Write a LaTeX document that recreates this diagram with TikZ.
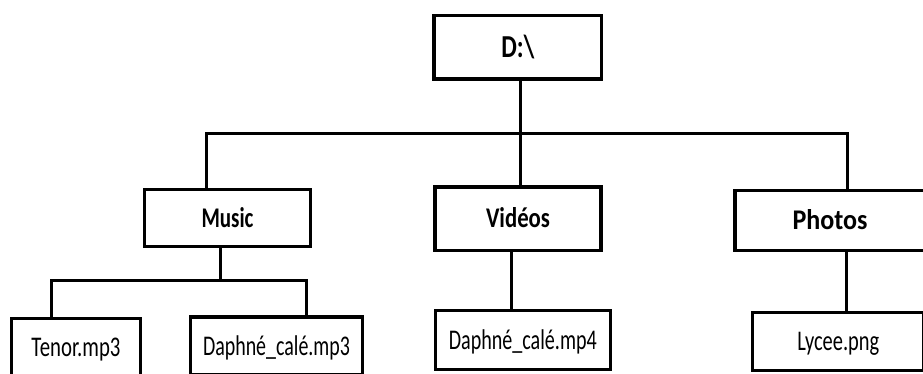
\documentclass[tikz,border=0pt]{standalone}
\usepackage{graphicx}
\usepackage{fontspec}
\setmainfont{Carlito}
\newcommand\boxtext[3]{\resizebox{#1}{\height}{\fontsize{#2}{#2}\selectfont #3}}
\tikzset{
  dirbox/.style={draw=black, line width=3.2pt, fill=white, rectangle, inner sep=0pt, align=center},
  link/.style={draw=black, line width=3pt, line join=miter}
}
\begin{document}
\begin{tikzpicture}[x=1pt,y=-1pt]
\useasboundingbox (0,0) rectangle (923,374);
\clip (0,0) rectangle (923,374);
\fill[white] (0,0) rectangle (923,374);
% boxes
\node[dirbox, minimum width=167.7pt, minimum height=63.3pt, text height=20.6pt, text depth=0pt] (d) at (517.9,47.3) {\boxtext{33pt}{32pt}{\bfseries D:\textbackslash}};
\node[dirbox, minimum width=165.6pt, minimum height=57.5pt, text height=18.4pt, text depth=0pt] (music) at (227.5,218) {\boxtext{52pt}{28.5pt}{\bfseries Music}};
\node[dirbox, minimum width=166pt, minimum height=63.3pt, text height=18.4pt, text depth=0pt] (videos) at (518,218.7) {\boxtext{64pt}{28.5pt}{\bfseries Vidéos}};
\node[dirbox, minimum width=190pt, minimum height=60pt, text height=18.4pt, text depth=0pt] (photos) at (830,220.3) {\boxtext{75pt}{28.5pt}{\bfseries Photos}};
\node[dirbox, minimum width=128.6pt, minimum height=58pt, text height=18.4pt, text depth=0pt] (tenor) at (76,347.7) {\boxtext{89pt}{28.5pt}{Tenor.mp3}};
\node[dirbox, minimum width=172.5pt, minimum height=58pt, text height=18.4pt, text depth=0pt] (daph3) at (276.5,346) {\boxtext{147pt}{28.5pt}{Daphné\_calé.mp3}};
\node[dirbox, minimum width=175pt, minimum height=59pt, text height=18.4pt, text depth=0pt] (daph4) at (522.8,340.2) {\boxtext{148pt}{28.5pt}{Daphné\_calé.mp4}};
\node[dirbox, minimum width=171.3pt, minimum height=57.8pt, text height=18.4pt, text depth=0pt] (lycee) at (838.3,341.6) {\boxtext{82pt}{28.5pt}{Lycee.png}};
% junction points
\coordinate (jt) at (520.3,134);
\coordinate (jl) at (206.7,134);
\coordinate (jr) at (847.3,134);
\coordinate (mj) at (220,280.5);
\coordinate (ml) at (51,280.5);
\coordinate (mr) at (306.7,280.5);
\coordinate (vx) at (511.7,280);
\coordinate (px) at (846.7,280);
% connectors
\draw[link] (d.south -| jt) -- (jt);
\draw[link] (music.north -| jl) -- (jl) -- (jr) -- (photos.north -| jr);
\draw[link] (jt) -- (videos.north -| jt);
\draw[link] (music.south -| mj) -- (mj);
\draw[link] (tenor.north -| ml) -- (ml) -- (mr) -- (daph3.north -| mr);
\draw[link] (videos.south -| vx) -- (daph4.north -| vx);
\draw[link] (photos.south -| px) -- (lycee.north -| px);
\end{tikzpicture}
\end{document}
